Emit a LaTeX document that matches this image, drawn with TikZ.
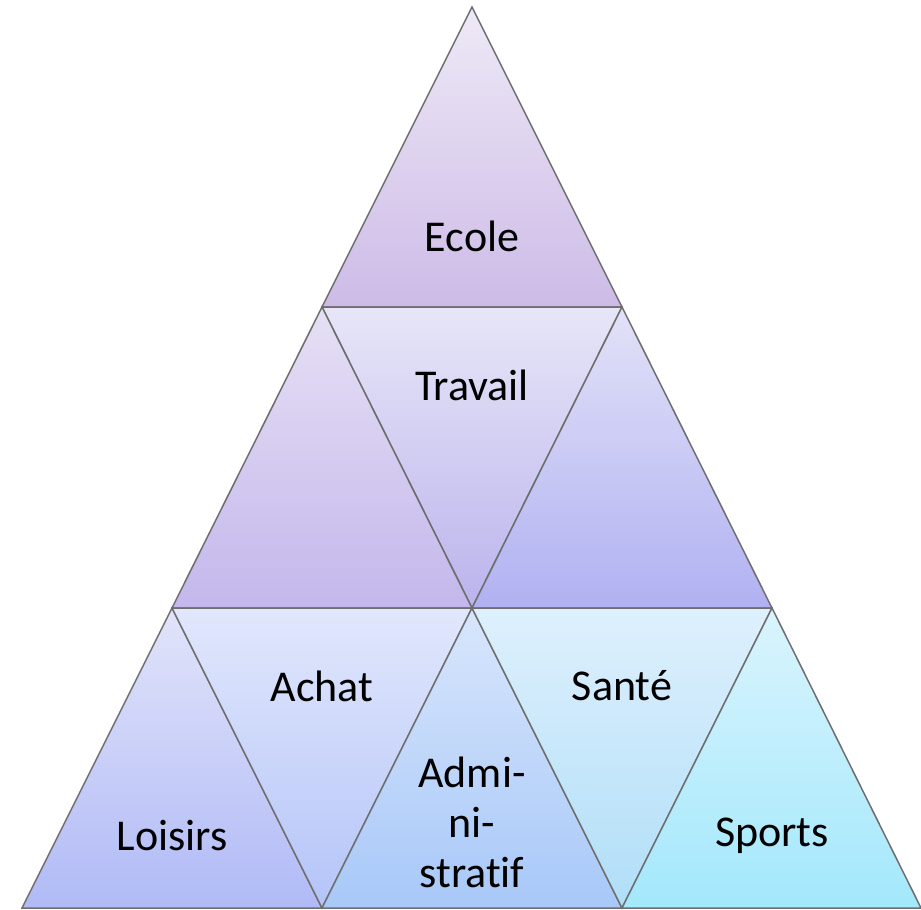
\documentclass[tikz,border=0pt]{standalone}
\usepackage{fontspec}
\setmainfont{Carlito}[Ligatures=NoCommon]
\usepackage{tikz}

\definecolor{edgegray}{HTML}{6E6E6E}
\definecolor{ecoleT}{HTML}{EEE9F6}
\definecolor{ecoleB}{HTML}{CDBBE7}
\definecolor{travailT}{HTML}{E7E6F8}
\definecolor{travailB}{HTML}{BBB3EC}
\definecolor{midleftT}{HTML}{E6E0F4}
\definecolor{midleftB}{HTML}{C4B7EC}
\definecolor{midrightT}{HTML}{E2E2F8}
\definecolor{midrightB}{HTML}{B1B1F2}
\definecolor{loisirsT}{HTML}{E2E4FA}
\definecolor{loisirsB}{HTML}{B0BAF6}
\definecolor{achatT}{HTML}{E1E7FC}
\definecolor{achatB}{HTML}{B4C4F8}
\definecolor{adminT}{HTML}{D8E6FC}
\definecolor{adminB}{HTML}{A8C8F8}
\definecolor{santeT}{HTML}{DEF0FD}
\definecolor{santeB}{HTML}{B0DEF8}
\definecolor{sportsT}{HTML}{DAF4FD}
\definecolor{sportsB}{HTML}{A3E8FC}

\tikzset{
  tri/.style={draw=edgegray, line width=1.5pt, line join=miter},
  lbl/.style={font=\fontsize{44}{50}\selectfont, align=center, text=black}
}

\begin{document}
\begin{tikzpicture}[x=1pt, y=-1pt]
	\useasboundingbox (0,0) rectangle (921,910);
	% corners of the small triangles
	\coordinate (A) at (472,7);
	\coordinate (B) at (322,307);
	\coordinate (C) at (622,307);
	\coordinate (D) at (172,608);
	\coordinate (E) at (472,608);
	\coordinate (F) at (772,608);
	\coordinate (G) at (22,908);
	\coordinate (H) at (322,908);
	\coordinate (I) at (622,908);
	\coordinate (J) at (921,908);
	% pieces
	\foreach \p/\q/\r/\ct/\cb in {A/B/C/ecoleT/ecoleB, B/C/E/travailT/travailB,
	    B/D/E/midleftT/midleftB, C/E/F/midrightT/midrightB,
	    D/G/H/loisirsT/loisirsB, D/E/H/achatT/achatB, E/H/I/adminT/adminB,
	    E/F/I/santeT/santeB, F/I/J/sportsT/sportsB}
	    \path[tri, top color=\ct, bottom color=\cb] (\p) -- (\q) -- (\r) -- cycle;
	% labels
	\node[lbl] (ecole) at (472,236) {Ecole};
	\node[lbl] (travail) at (472,385) {Travail};
	\node[lbl] (achat) at (322,686) {Achat};
	\node[lbl] (sante) at (622,686) {Santé};
	\node[lbl] (loisirs) at (172,836) {Loisirs};
	\node[lbl] (admin) at (472,822) {Admi-\\ni-\\stratif};
	\node[lbl] (sports) at (772,836) {Sports};
\end{tikzpicture}
\end{document}
